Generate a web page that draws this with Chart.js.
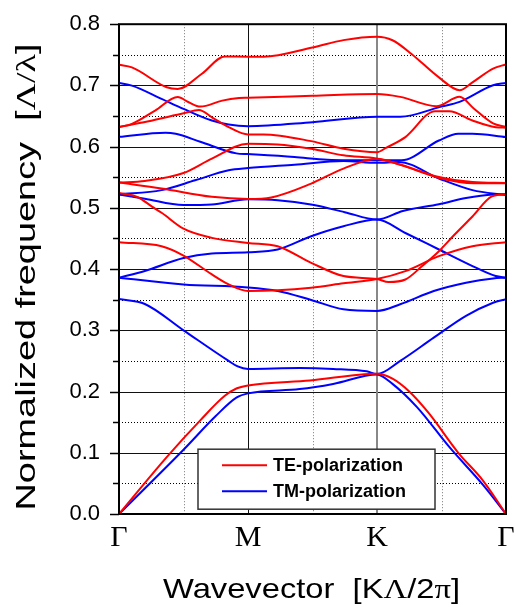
<!DOCTYPE html>
<html>
<head>
<meta charset="utf-8">
<script src="https://cdn.jsdelivr.net/npm/chart.js@4/dist/chart.umd.min.js"></script>
<style>
  html, body { margin: 0; padding: 0; background: #fff; }
  #wrap { width: 516px; height: 610px; }
</style>
</head>
<body>
<div id="wrap"><canvas id="c" width="516" height="610"></canvas></div>
<script>
// Path through the Brillouin zone: Γ – M – K – Γ, equal spacing per segment
const kPoints = [0, 1, 2, 3];
const kLabels = ['Γ', 'M', 'K', 'Γ'];
const kMidpoints = [0.5, 1.5, 2.5];

// Frequency axis (normalized, Λ/λ)
const yTicks = [0, 0.1, 0.2, 0.3, 0.4, 0.5, 0.6, 0.7, 0.8];
const yMinor = [0.05, 0.15, 0.25, 0.35, 0.45, 0.55, 0.65, 0.75];

const seriesNames = ['TE-polarization', 'TM-polarization'];

// TE bands: [k, frequency]
const teBand1 = [[0,0],[0.37,0.093],[0.63,0.153],[0.82,0.193],[0.91,0.205],[1,0.21],[1.48,0.218],[2,0.229],[2.12,0.221],[2.25,0.2],[2.4,0.165],[2.63,0.1],[2.82,0.055],[3,0]];
const teBand2 = [[0,0.444],[0.33,0.4374],[0.5,0.4222],[0.72,0.3913],[0.85,0.375],[1,0.3642],[1.23,0.3653],[1.49,0.3696],[1.74,0.3767],[2,0.3838],[2.22,0.3967],[2.48,0.4211],[2.74,0.4374],[3,0.444]];
const teBand3 = [[0,0.5245],[0.15,0.517],[0.256,0.502],[0.333,0.4916],[0.5,0.466],[0.72,0.451],[1,0.4428],[1.23,0.4374],[1.49,0.4103],[1.74,0.3886],[2,0.3838],[2.09,0.3789],[2.22,0.383],[2.35,0.405],[2.48,0.4293],[2.6,0.456],[2.74,0.486],[2.89,0.5187],[3,0.5225]];
const teBand4 = [[0,0.5413],[0.33,0.5316],[0.72,0.518],[1,0.5145],[1.18,0.517],[1.49,0.5397],[1.74,0.5641],[2,0.5804],[2.18,0.5702],[2.49,0.5485],[2.75,0.5404],[3,0.5404]];
const teBand5 = [[0,0.5413],[0.2,0.544],[0.5,0.557],[0.72,0.5804],[1,0.6047],[1.23,0.6037],[1.49,0.5966],[1.74,0.5858],[2,0.5804],[2.16,0.5722],[2.48,0.5505],[2.74,0.5424],[3,0.5408]];
const teBand6 = [[0,0.632],[0.22,0.641],[0.5,0.6545],[0.62,0.66],[0.72,0.648],[0.85,0.632],[1,0.62],[1.12,0.62],[1.49,0.609],[1.74,0.5966],[2,0.591],[2.07,0.598],[2.22,0.6156],[2.45,0.658],[2.56,0.658],[2.74,0.6427],[2.92,0.6318],[3,0.631]];
const teBand7 = [[0,0.632],[0.1,0.6373],[0.28,0.659],[0.455,0.681],[0.54,0.6725],[0.63,0.6654],[0.8,0.6752],[0.93,0.6795],[1,0.68],[1.5,0.683],[2,0.686],[2.18,0.6813],[2.46,0.6661],[2.64,0.6813],[2.75,0.6623],[2.9,0.6379],[3,0.6325]];
const teBand8 = [[0,0.7337],[0.1,0.7294],[0.37,0.697],[0.455,0.6942],[0.64,0.7186],[0.82,0.7473],[1,0.747],[1.12,0.747],[1.5,0.762],[1.74,0.774],[2,0.7795],[2.12,0.7738],[2.27,0.751],[2.48,0.7131],[2.64,0.6922],[2.74,0.705],[2.9,0.7274],[3,0.7344]];

// TM bands: [k, frequency]
const tmBand1 = [[0,0],[0.5,0.105],[0.75,0.16],[0.91,0.19],[1,0.197],[1.4,0.204],[1.66,0.2125],[2,0.228],[2.12,0.2125],[2.31,0.1745],[2.56,0.1095],[2.82,0.048],[3,0]];
const tmBand2 = [[0,0.351],[0.2,0.343],[0.5,0.3],[0.85,0.25],[0.92,0.241],[1,0.237],[1.4,0.2385],[1.66,0.237],[1.92,0.233],[2,0.2285],[2.18,0.25],[2.44,0.288],[2.69,0.3236],[2.9,0.345],[3,0.351]];
const tmBand3 = [[0,0.386],[0.5,0.375],[1,0.37],[1.23,0.3642],[1.49,0.3496],[1.74,0.3344],[2,0.3317],[2.18,0.3426],[2.44,0.3642],[2.69,0.3778],[2.9,0.3848],[3,0.386]];
const tmBand4 = [[0,0.386],[0.2,0.397],[0.5,0.418],[0.72,0.4255],[1,0.4276],[1.23,0.432],[1.49,0.4537],[1.74,0.47],[2,0.481],[2.22,0.459],[2.48,0.432],[2.74,0.405],[2.92,0.3886],[3,0.386]];
const tmBand5 = [[0,0.522],[0.2,0.515],[0.5,0.5045],[0.72,0.5056],[1,0.514],[1.23,0.5126],[1.5,0.505],[1.75,0.493],[2,0.481],[2.2,0.495],[2.48,0.506],[2.69,0.516],[2.9,0.522],[3,0.5225]];
const tmBand6 = [[0,0.522],[0.33,0.529],[0.59,0.545],[0.85,0.5614],[1,0.565],[1.36,0.5706],[1.74,0.5766],[2,0.5735],[2.17,0.575],[2.48,0.548],[2.74,0.529],[3,0.521]];
const tmBand7 = [[0,0.616],[0.36,0.6228],[0.44,0.621],[0.63,0.608],[0.91,0.589],[1,0.5878],[1.36,0.5831],[1.615,0.5787],[2,0.5776],[2.19,0.5776],[2.48,0.61],[2.63,0.621],[2.74,0.621],[3,0.6156]];
const tmBand8 = [[0,0.704],[0.1,0.6996],[0.33,0.678],[0.5,0.6617],[0.72,0.6427],[0.85,0.6362],[1,0.6335],[1.5,0.64],[2,0.6488],[2.18,0.6488],[2.49,0.665],[2.64,0.6732],[2.9,0.7003],[3,0.704]];

const teBands = [teBand1, teBand2, teBand3, teBand4, teBand5, teBand6, teBand7, teBand8];
const tmBands = [tmBand1, tmBand2, tmBand3, tmBand4, tmBand5, tmBand6, tmBand7, tmBand8];

const TE_COLOR = '#ff0000';
const TM_COLOR = '#0000ff';
const SANS = '"Liberation Sans", Arial, sans-serif';
const SERIF = '"Liberation Serif", "Times New Roman", serif';

function bandDataset(points, name, color) {
  return {
    label: name,
    data: points.map(([k, f]) => ({ x: k, y: f })),
    borderColor: color,
    borderWidth: 2,
    pointRadius: 0,
    fill: false,
    cubicInterpolationMode: 'monotone'
  };
}

const datasets = [
  ...teBands.map(b => bandDataset(b, seriesNames[0], TE_COLOR)),
  ...tmBands.map(b => bandDataset(b, seriesNames[1], TM_COLOR))
];

function seg(ctx, x1, y1, x2, y2) {
  ctx.beginPath(); ctx.moveTo(x1, y1); ctx.lineTo(x2, y2); ctx.stroke();
}

// Draw a sequence of text runs (each with its own font) stretched along the writing direction
function drawRuns(ctx, runs, size, targetLen) {
  let total = 0;
  const widths = runs.map(r => { ctx.font = size + 'px ' + r.f; const w = ctx.measureText(r.t).width; total += w; return w; });
  const sx = targetLen / total;
  ctx.scale(sx, 1);
  let pos = -total / 2;
  ctx.textBaseline = 'alphabetic';
  ctx.textAlign = 'left';
  ctx.fillStyle = '#000';
  runs.forEach((r, i) => { ctx.font = size + 'px ' + r.f; ctx.fillText(r.t, pos, 0); pos += widths[i]; });
}

// Grid, frame, axis ticks, legend and axis titles
const bandDecor = {
  id: 'bandDecor',
  beforeDatasetsDraw(chart) {
    const { ctx, chartArea: a, scales: { x, y } } = chart;
    ctx.save();
    ctx.lineWidth = 1;
    ctx.setLineDash([1, 2]);
    ctx.strokeStyle = '#000';
    yMinor.forEach(v => { const p = Math.round(y.getPixelForValue(v)) + 0.5; seg(ctx, a.left, p, a.right, p); });
    ctx.strokeStyle = '#777';
    kMidpoints.forEach(v => { const p = Math.round(x.getPixelForValue(v)) + 0.5; seg(ctx, p, a.top, p, a.bottom); });
    ctx.setLineDash([]);
    ctx.strokeStyle = '#111';
    yTicks.slice(1, -1).forEach(v => { const p = Math.round(y.getPixelForValue(v)) + 0.5; seg(ctx, a.left, p, a.right, p); });
    // M in black, K in grey
    let p = Math.round(x.getPixelForValue(kPoints[1])) + 0.5;
    seg(ctx, p, a.top, p, a.bottom);
    ctx.strokeStyle = '#888';
    ctx.lineWidth = 2;
    p = Math.round(x.getPixelForValue(kPoints[2]));
    seg(ctx, p, a.top, p, a.bottom);
    ctx.restore();
  },
  afterDatasetsDraw(chart) {
    const { ctx, chartArea: a, scales: { y } } = chart;
    ctx.save();
    // plot frame
    ctx.strokeStyle = '#000';
    ctx.lineWidth = 2;
    ctx.strokeRect(a.left, a.top, a.right - a.left, a.bottom - a.top);
    // outward ticks on the frequency axis
    ctx.lineWidth = 1.5;
    yTicks.forEach(v => { const p = Math.round(y.getPixelForValue(v)) + 0.5; seg(ctx, a.left - 9, p, a.left, p); });
    yMinor.forEach(v => { const p = Math.round(y.getPixelForValue(v)) + 0.5; seg(ctx, a.left - 6, p, a.left, p); });

    // legend box
    const bx = a.left + 79, by = a.top + 425, bw = 237, bh = 60;
    ctx.fillStyle = '#fff';
    ctx.fillRect(bx, by, bw, bh);
    ctx.strokeStyle = '#333';
    ctx.lineWidth = 1.5;
    ctx.strokeRect(bx, by, bw, bh);
    const rows = [[seriesNames[0], TE_COLOR, by + 16], [seriesNames[1], TM_COLOR, by + 42]];
    rows.forEach(([name, color, ry]) => {
      ctx.strokeStyle = color;
      ctx.lineWidth = 2;
      seg(ctx, bx + 24, ry, bx + 69, ry);
      ctx.fillStyle = '#000';
      ctx.font = 'bold 18px ' + SANS;
      ctx.textBaseline = 'middle';
      ctx.textAlign = 'left';
      ctx.fillText(name, bx + 75, ry + 1);
    });
    ctx.restore();
  },
  afterDraw(chart) {
    const { ctx, chartArea: a } = chart;
    // horizontal axis title
    ctx.save();
    ctx.translate((a.left + a.right) / 2 - 1, 598);
    drawRuns(ctx, [
      { t: 'Wavevector  [K', f: SANS }, { t: 'Λ', f: SERIF }, { t: '/2', f: SANS },
      { t: 'π', f: SERIF }, { t: ']', f: SANS }
    ], 28, 297);
    ctx.restore();
    // vertical axis title
    ctx.save();
    ctx.translate(35, 277);
    ctx.rotate(-Math.PI / 2);
    drawRuns(ctx, [
      { t: 'Normalized frequency  [', f: SANS }, { t: 'Λ/λ', f: SERIF }, { t: ']', f: SANS }
    ], 28, 467);
    ctx.restore();
  }
};

new Chart(document.getElementById('c'), {
  type: 'line',
  data: { datasets },
  options: {
    responsive: false,
    animation: false,
    devicePixelRatio: 1,
    layout: { padding: { left: 0, right: 10, top: 22, bottom: 0 } },
    plugins: { legend: { display: false }, tooltip: { enabled: false } },
    scales: {
      x: {
        type: 'linear', min: 0, max: 3,
        afterBuildTicks: s => { s.ticks = kPoints.map(v => ({ value: v })); },
        afterFit: s => { s.height = 96; },
        grid: { display: false },
        border: { display: false },
        ticks: {
          autoSkip: false, maxRotation: 0, color: '#000', padding: -2,
          font: { family: SERIF, size: 30 },
          callback: (v, i) => kLabels[i]
        }
      },
      y: {
        type: 'linear', min: 0, max: 0.8,
        afterBuildTicks: s => { s.ticks = yTicks.map(v => ({ value: v })); },
        afterFit: s => { s.width = 119; },
        grid: { display: false },
        border: { display: false },
        ticks: {
          color: '#000', padding: 11,
          font: { family: SANS, size: 22 },
          callback: v => Number(v).toFixed(1)
        }
      }
    }
  },
  plugins: [bandDecor]
});
</script>
</body>
</html>
